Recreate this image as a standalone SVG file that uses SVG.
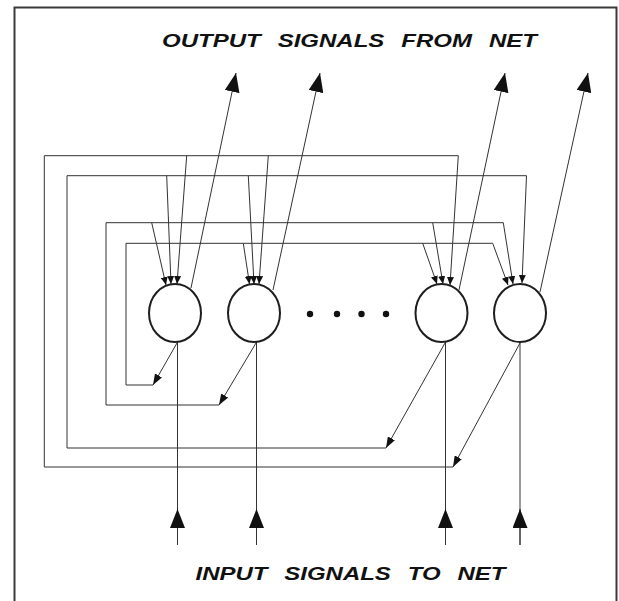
<svg xmlns="http://www.w3.org/2000/svg" width="619" height="601" viewBox="0 0 619 601">
  <style>
    .frame { fill: none; stroke: #3a3a3a; stroke-width: 2; }
    .wire { fill: none; stroke: #333; stroke-width: 1; }
    .cell { fill: #fff; stroke: #1e1e1e; stroke-width: 2; }
    .dot { fill: #111; }
    .caption { font-family: "Liberation Sans", Arial, sans-serif; font-weight: bold; font-style: italic; font-size: 18.6px; fill: #111; word-spacing: 8px; }
  </style>
  <defs>
    <!-- large heads for the net's outputs and inputs -->
    <marker id="headL" viewBox="0 0 19 15" refX="19" refY="7.5" markerWidth="19" markerHeight="15" markerUnits="userSpaceOnUse" orient="auto">
      <path d="M0,0 L19,7.5 L0,15 z" fill="#111"/>
    </marker>
    <!-- medium heads where each output turns into a feedback line -->
    <marker id="headM" viewBox="0 0 11 8" refX="11" refY="4" markerWidth="11" markerHeight="8" markerUnits="userSpaceOnUse" orient="auto">
      <path d="M0,0 L11,4 L0,8 z" fill="#111"/>
    </marker>
    <!-- small heads where feedback lines enter a cell -->
    <marker id="headS" viewBox="0 0 8 7" refX="8" refY="3.5" markerWidth="8" markerHeight="7" markerUnits="userSpaceOnUse" orient="auto">
      <path d="M0,0 L8,3.5 L0,7 z" fill="#111"/>
    </marker>
  </defs>

  <rect width="619" height="601" fill="#fff"/>
  <path class="frame" d="M14.5,601 V7.5 H616.5 V601"/>

  <text class="caption" x="162" y="46.7" textLength="375" lengthAdjust="spacingAndGlyphs">OUTPUT SIGNALS FROM NET</text>
  <text class="caption" x="195.5" y="580" textLength="310" lengthAdjust="spacingAndGlyphs">INPUT SIGNALS TO NET</text>

  <g id="connectors">
    <!-- outputs -->
    <path class="wire" d="M191,288 L236,73" marker-end="url(#headL)"/>
    <path class="wire" d="M273,290 L320,73" marker-end="url(#headL)"/>
    <path class="wire" d="M459,290 L505,73" marker-end="url(#headL)"/>
    <path class="wire" d="M540,292 L588,73" marker-end="url(#headL)"/>

    <!-- inputs -->
    <path class="wire" d="M177.5,545 V342"/>
    <path class="wire" d="M177.5,545 V509" marker-end="url(#headL)"/>
    <path class="wire" d="M256.5,545 V342"/>
    <path class="wire" d="M256.5,545 V509" marker-end="url(#headL)"/>
    <path class="wire" d="M445.5,545 V342"/>
    <path class="wire" d="M445.5,545 V509" marker-end="url(#headL)"/>
    <path class="wire" d="M520,545 V342"/>
    <path class="wire" d="M520,545 V509" marker-end="url(#headL)"/>

    <!-- feedback from cell 1 -->
    <path class="wire" d="M177,343 L153,385" marker-end="url(#headM)"/>
    <path class="wire" d="M153,385 H126 V243.3 H492.7 L508,285" marker-end="url(#headS)"/>
    <path class="wire" d="M243.3,243.3 L249.5,284" marker-end="url(#headS)"/>
    <path class="wire" d="M422.7,243.3 L437,284" marker-end="url(#headS)"/>

    <!-- feedback from cell 2 -->
    <path class="wire" d="M256,343 L219,405" marker-end="url(#headM)"/>
    <path class="wire" d="M219,405 H106 V222.7 H503.3 L513,284" marker-end="url(#headS)"/>
    <path class="wire" d="M151.7,222.7 L166,285" marker-end="url(#headS)"/>
    <path class="wire" d="M432.7,222.7 L443,284" marker-end="url(#headS)"/>

    <!-- feedback from cell 3 -->
    <path class="wire" d="M445,343 L386,448" marker-end="url(#headM)"/>
    <path class="wire" d="M386,448 H67 V175.7 H526.5 L522,283" marker-end="url(#headS)"/>
    <path class="wire" d="M166.7,175.7 L171,284" marker-end="url(#headS)"/>
    <path class="wire" d="M248.3,175.7 L254,284" marker-end="url(#headS)"/>

    <!-- feedback from cell 4 -->
    <path class="wire" d="M520,343 L453,467" marker-end="url(#headM)"/>
    <path class="wire" d="M453,467 H44.3 V155.7 H458.3 L450,285" marker-end="url(#headS)"/>
    <path class="wire" d="M186.7,155.7 L177,284" marker-end="url(#headS)"/>
    <path class="wire" d="M268.3,155.7 L259,284" marker-end="url(#headS)"/>
  </g>

  <g id="cell1"><ellipse class="cell" cx="175" cy="313" rx="26" ry="29"/></g>
  <g id="cell2"><ellipse class="cell" cx="254" cy="313" rx="26" ry="29"/></g>
  <g id="cell3"><ellipse class="cell" cx="441.5" cy="313" rx="26" ry="29"/></g>
  <g id="cell4"><ellipse class="cell" cx="520" cy="313" rx="26" ry="29"/></g>

  <g id="ellipsis">
    <circle class="dot" cx="310" cy="314" r="3.2"/>
    <circle class="dot" cx="337" cy="314" r="3.2"/>
    <circle class="dot" cx="361.5" cy="314" r="3.2"/>
    <circle class="dot" cx="386" cy="314" r="3.2"/>
  </g>
</svg>
